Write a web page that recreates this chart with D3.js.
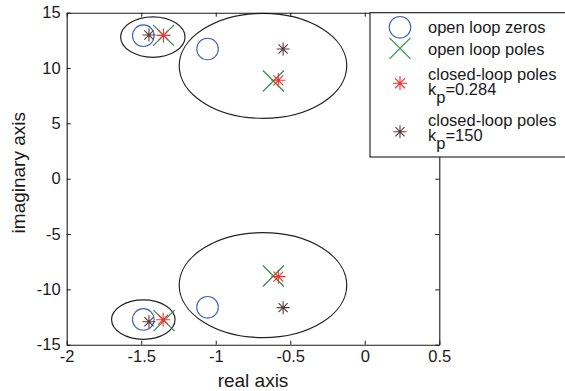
<!DOCTYPE html>
<html>
<head>
<meta charset="utf-8">
<script src="https://cdn.jsdelivr.net/npm/d3@7"></script>
<style>
  html, body { margin: 0; padding: 0; background: #fff; }
  svg { display: block; font-family: "Liberation Sans", Arial, sans-serif; }
</style>
</head>
<body>
<svg id="chart" width="565" height="391"></svg>
<script>
// ---- data ----
const xTicks = [-2, -1.5, -1, -0.5, 0, 0.5];
const yTicks = [-15, -10, -5, 0, 5, 10, 15];

const zerosRe = [-1.486, -1.055, -1.486, -1.055];
const zerosIm = [12.92, 11.72, -12.72, -11.62];

const olPolesRe = [-1.350, -0.613, -1.347, -0.613];
const olPolesIm = [12.95, 8.83, -12.83, -8.79];

const clPolesLowRe = [-1.351, -0.580, -1.353, -0.580];
const clPolesLowIm = [12.95, 8.89, -12.74, -8.85];

const clPolesHighRe = [-1.448, -0.548, -1.448, -0.548];
const clPolesHighIm = [12.98, 11.72, -12.92, -11.65];

const ellipseCx = [-1.422, -0.683, -1.486, -0.683];
const ellipseCy = [12.80, 10.20, -12.73, -9.62];
const ellipseRx = [0.216, 0.562, 0.213, 0.562];
const ellipseRy = [1.83, 4.74, 1.78, 4.74];

const legendLabels = ["open loop zeros", "open loop poles", "closed-loop poles", "closed-loop poles"];
const legendKp = [null, null, "0.284", "150"];

// ---- layout ----
const L = 66.7, R = 439.3, T = 12.7, B = 344.7;
const x = d3.scaleLinear().domain([-2, 0.5]).range([L, R]);
const y = d3.scaleLinear().domain([-15, 15]).range([B, T]);

const svg = d3.select("#chart");
const fs = 16.5;
const ink = "#1a1a1a";

// ellipses
const ell = svg.append("g");
ellipseCx.forEach((cx, i) => {
  ell.append("ellipse")
    .attr("cx", x(cx)).attr("cy", y(ellipseCy[i]))
    .attr("rx", x(cx + ellipseRx[i]) - x(cx))
    .attr("ry", y(ellipseCy[i]) - y(ellipseCy[i] + ellipseRy[i]))
    .attr("fill", "none").attr("stroke", "#222").attr("stroke-width", 1.2);
});

// marker helpers
function circleMark(g, cx, cy) {
  g.append("circle").attr("cx", cx).attr("cy", cy).attr("r", 10.8)
    .attr("fill", "none").attr("stroke", "#3f5fbf").attr("stroke-width", 1.1);
}
function xMark(g, cx, cy) {
  const h = 10.5;
  g.append("path").attr("d", `M${cx-h},${cy-h}L${cx+h},${cy+h}M${cx-h},${cy+h}L${cx+h},${cy-h}`)
    .attr("stroke", "#2a9050").attr("stroke-width", 1.2).attr("fill", "none");
}
function starMark(g, cx, cy, h, color) {
  const d = h * 0.7071;
  g.append("path").attr("d",
      `M${cx-h},${cy}L${cx+h},${cy}M${cx},${cy-h}L${cx},${cy+h}` +
      `M${cx-d},${cy-d}L${cx+d},${cy+d}M${cx-d},${cy+d}L${cx+d},${cy-d}`)
    .attr("stroke", color).attr("stroke-width", 1.1).attr("fill", "none");
}

const marks = svg.append("g");
zerosRe.forEach((re, i) => circleMark(marks, x(re), y(zerosIm[i])));
olPolesRe.forEach((re, i) => xMark(marks, x(re), y(olPolesIm[i])));
clPolesLowRe.forEach((re, i) => starMark(marks, x(re), y(clPolesLowIm[i]), 7, "#ff2b2b"));
clPolesHighRe.forEach((re, i) => starMark(marks, x(re), y(clPolesHighIm[i]), 6.5, "#5a3a3a"));

// axes
function styleAxis(g) {
  g.select(".domain").attr("stroke", ink).attr("stroke-width", 1.1);
  g.selectAll(".tick line").attr("stroke", ink);
  g.selectAll(".tick text").attr("fill", ink).style("font-size", fs + "px")
    .style("font-family", '"Liberation Sans", Arial, sans-serif');
}
const fmt = d => String(d);
svg.append("g").attr("transform", `translate(0,${B})`)
  .call(d3.axisBottom(x).tickValues(xTicks).tickFormat(fmt).tickSizeInner(-4).tickSizeOuter(0).tickPadding(6))
  .call(styleAxis);
svg.append("g").attr("transform", `translate(0,${T})`)
  .call(d3.axisTop(x).tickValues(xTicks).tickFormat("").tickSizeInner(-4).tickSizeOuter(0))
  .call(styleAxis);
svg.append("g").attr("transform", `translate(${L},0)`)
  .call(d3.axisLeft(y).tickValues(yTicks).tickFormat(fmt).tickSizeInner(-4).tickSizeOuter(0).tickPadding(6))
  .call(styleAxis);
svg.append("g").attr("transform", `translate(${R},0)`)
  .call(d3.axisRight(y).tickValues(yTicks).tickFormat("").tickSizeInner(-4).tickSizeOuter(0))
  .call(styleAxis);

// axis labels
svg.append("text").attr("x", (L + R) / 2).attr("y", 387)
  .attr("text-anchor", "middle").attr("fill", ink).style("font-size", "19px").text("real axis");
svg.append("text").attr("transform", `translate(25,${(T + B) / 2 - 6}) rotate(-90)`)
  .attr("text-anchor", "middle").attr("fill", ink).style("font-size", "19px").text("imaginary axis");

// legend
const lg = svg.append("g");
lg.append("rect").attr("x", 370).attr("y", T).attr("width", 200).attr("height", 157 - T)
  .attr("fill", "#fff").attr("stroke", ink).attr("stroke-width", 1.1);
const iconX = 400, textX = 428;
const rowIconY = [27.3, 48.3, 83.3, 131.7];
const rowBase = [33.3, 55, 80, 126];
legendLabels.forEach((lab, i) => {
  const t = lg.append("text").attr("x", textX).attr("y", rowBase[i]).attr("fill", ink)
    .style("font-size", fs + "px");
  t.append("tspan").text(lab);
  if (legendKp[i]) {
    t.append("tspan").attr("x", textX).attr("dy", 15).text("k");
    t.append("tspan").attr("dy", 8).text("p");
    t.append("tspan").attr("dy", -8).text("=" + legendKp[i]);
  }
});
circleMark(lg, iconX, rowIconY[0]);
xMark(lg, iconX, rowIconY[1]);
starMark(lg, iconX, rowIconY[2], 7, "#ff2b2b");
starMark(lg, iconX, rowIconY[3], 6.5, "#5a3a3a");
</script>
</body>
</html>
